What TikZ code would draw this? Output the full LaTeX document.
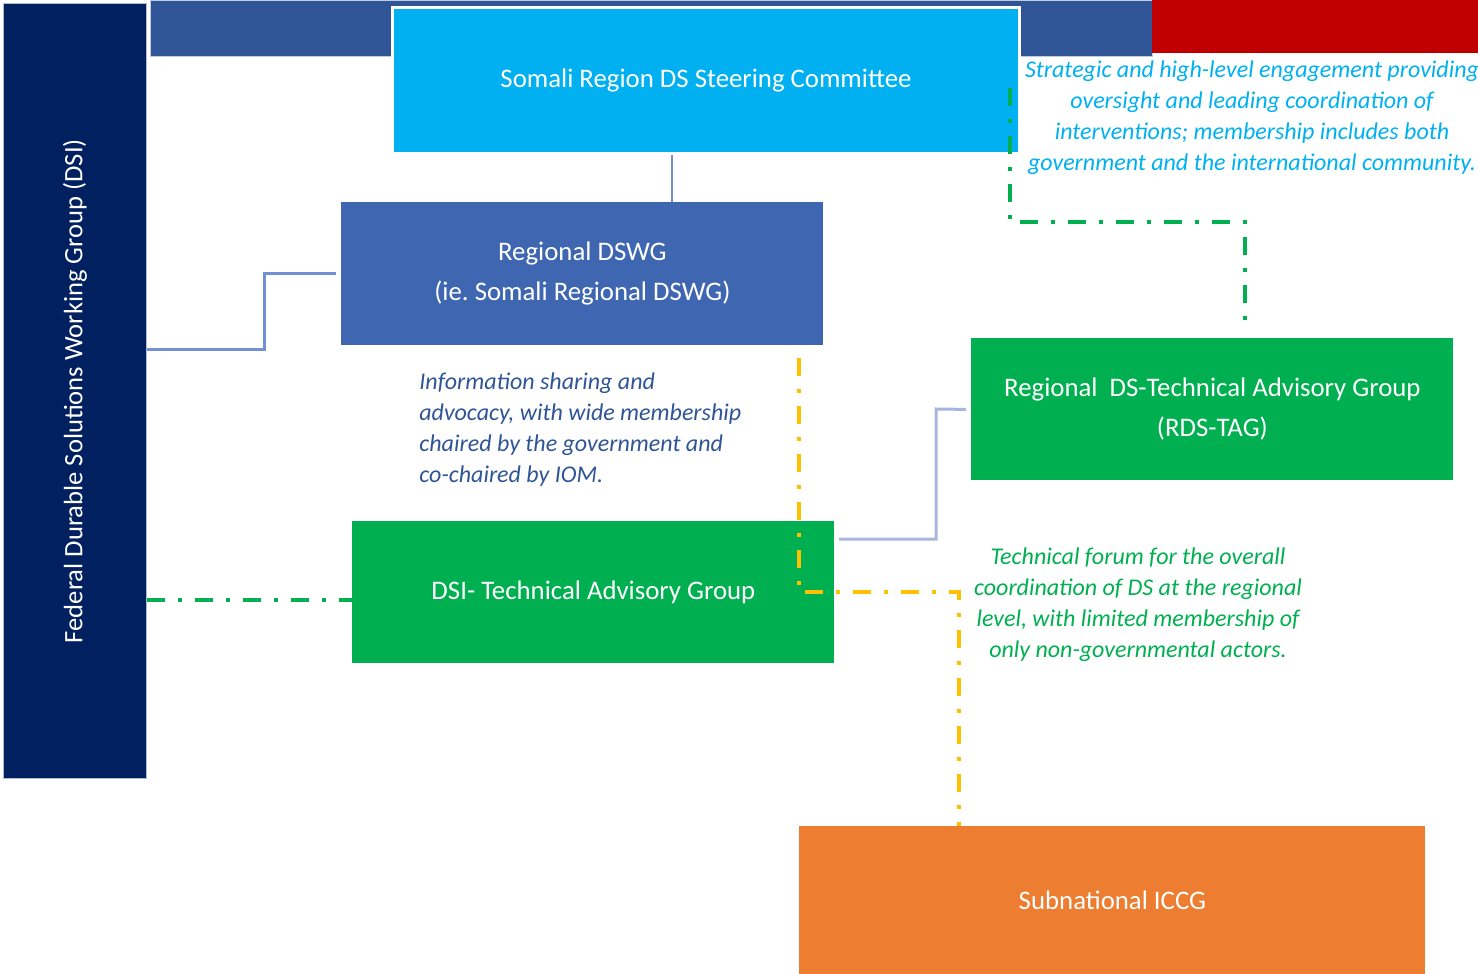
\documentclass[tikz,border=0pt]{standalone}
\usepackage{fontspec}
\setmainfont{Carlito}
\usetikzlibrary{positioning}
\definecolor{navy}{RGB}{0,32,96}
\definecolor{barblue}{RGB}{47,85,151}
\definecolor{skyblue}{RGB}{0,176,240}
\definecolor{dswgblue}{RGB}{63,103,177}
\definecolor{tagreen}{RGB}{0,176,80}
\definecolor{iccgorange}{RGB}{237,125,49}
\definecolor{darkred}{RGB}{192,0,0}
\definecolor{gold}{RGB}{255,192,0}
\definecolor{linkblue}{RGB}{114,144,212}
\definecolor{lavender}{RGB}{169,180,223}

\begin{document}
\frenchspacing
\begin{tikzpicture}[x=0.5pt,y=-0.5pt,
    box/.style={anchor=north west, inner sep=0pt, text=white, align=center, font=\fontsize{13.4}{20}\selectfont},
    note/.style={inner sep=0pt, font=\fontsize{12}{15.5}\selectfont\itshape},
    link/.style={linkblue, line width=1.5pt},
    dashdot/.style={line width=2pt, dash pattern=on 9pt off 6.5pt on 2pt off 6.5pt}
]
    \useasboundingbox (0,0) rectangle (1478,974);

    %Shape: Rectangle [id:fdsi]
    \node [box, fill=navy, draw=white!70!navy, line width=0.5pt, minimum width=71.5pt, minimum height=387.5pt] (fdsi) at (3,3) {};
    \node [rotate=90, text=white, inner sep=0pt, font=\fontsize{13.3}{15}\selectfont] (fdsilabel) at (fdsi.center) {Federal Durable Solutions Working Group (DSI)};
    %Shape: Rectangle [id:topbar]
    \node [box, fill=barblue, draw=white!70!barblue, line width=0.5pt, minimum width=501pt, minimum height=28pt] (topbar) at (150,0) {};
    %Shape: Rectangle [id:redbar]
    \node [box, fill=darkred, minimum width=163pt, minimum height=26.5pt] (redbar) at (1152,0) {};
    %Shape: Rectangle [id:steer]
    \node [box, fill=skyblue, draw=white, line width=1.5pt, minimum width=313.5pt, minimum height=73pt] (steer) at (391,6) {Somali Region DS Steering Committee};
    %Shape: Rectangle [id:dswg]
    \node [box, fill=dswgblue, minimum width=241pt, minimum height=71.5pt] (dswg) at (341,202) {Regional DSWG\\(ie. Somali Regional DSWG)};
    %Shape: Rectangle [id:rdstag]
    \node [box, fill=tagreen, minimum width=241pt, minimum height=71pt] (rdstag) at (971,338) {Regional\ \ DS-Technical Advisory Group\\(RDS-TAG)};
    %Shape: Rectangle [id:dsitag]
    \node [box, fill=tagreen, minimum width=241pt, minimum height=71pt] (dsitag) at (352,521) {DSI- Technical Advisory Group};
    %Shape: Rectangle [id:iccg]
    \node [box, fill=iccgorange, minimum width=313pt, minimum height=74pt] (iccg) at (799,826) {Subnational ICCG};

    % Text Node
    \node [note, text=skyblue, align=center] (steernote) at (1252,118) {Strategic and high-level engagement providing\\oversight and leading coordination of\\interventions; membership includes both\\government and the international community.};
    % Text Node
    \node [note, text=barblue, align=left, anchor=west] (dswgnote) at (419,430) {Information sharing and\\advocacy, with wide membership\\chaired by the government and\\co-chaired by IOM.};
    % Text Node
    \node [note, text=tagreen, align=center] (tagnote) at (1138,605) {Technical forum for the overall\\coordination of DS at the regional\\level, with limited membership of\\only non-governmental actors.};

    %Straight Lines
    \draw [linkblue, line width=0.75pt] (steer.south -| 672,0) -- (dswg.north -| 672,0);
    \draw [link] (fdsi.east |- 0,349) -- (264,349) |- ([xshift=-2.5pt]dswg.west);
    \draw [lavender, line width=1.5pt] ([xshift=2pt]dsitag.east |- 0,539) -| (936,409) -- ([xshift=-2.5pt]rdstag.west);
    %Dash-dot Lines
    \draw [dashdot, tagreen] (fdsi.east |- 0,600) -- (dsitag.west |- 0,600);
    \draw [dashdot, tagreen] (1010,88) -- (1010,222) -| ([yshift=3pt]rdstag.north -| 1245,0);
    \draw [dashdot, gold] ([yshift=-6pt]dswg.south -| 799,0) |- (959,592) -- (iccg.north -| 959,0);

\end{tikzpicture}
\end{document}
